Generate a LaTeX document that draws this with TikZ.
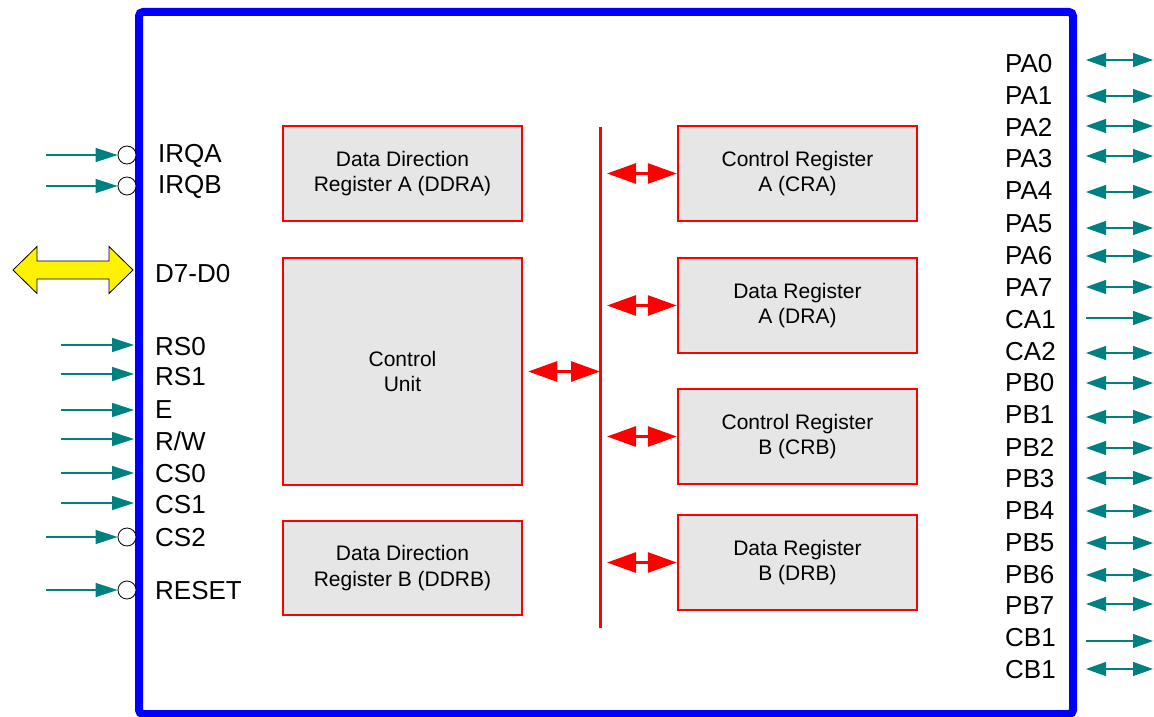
\documentclass[tikz,border=0pt]{standalone}
\usepackage{fontspec}
\setmainfont{Liberation Sans}
\usetikzlibrary{arrows.meta}
\definecolor{pinteal}{RGB}{0,128,128}
\definecolor{regfill}{RGB}{230,230,230}
\begin{document}
\begin{tikzpicture}[x=1pt,y=-1pt,
  reg/.style={draw=red, line width=2.5pt, fill=regfill, minimum width=239pt,
    inner sep=0pt, align=center, font=\fontsize{21}{25.5}\selectfont},
  bubble/.style={circle, draw=black, fill=white, line width=0.8pt,
    minimum size=18pt, inner sep=0pt},
  pinlabel/.style={anchor=west, inner sep=0pt, font=\fontsize{26}{30}\selectfont},
  pinin/.style={color=pinteal, line width=1.2pt, arrows={-Triangle[length=22pt,width=14pt]}},
  pinout/.style={color=pinteal, line width=1.2pt, arrows={-Triangle[length=20pt,width=14pt]}},
  pinboth/.style={color=pinteal, line width=1.2pt,
    arrows={Triangle[length=20pt,width=14pt]-Triangle[length=20pt,width=14pt]}},
  busarrow/.style={color=red, line width=3pt,
    arrows={Triangle[length=29pt,width=20pt]-Triangle[length=29pt,width=20pt]}},
]
\useasboundingbox (0,0) rectangle (1154,717);

% chip outline
\draw[blue, line width=8pt, rounded corners=4pt] (139,12) rectangle (1073,714);

% internal registers
\node[reg, minimum height=95pt]  (ddra) at (402.5,173.5) {Data Direction\\Register A (DDRA)};
\node[reg, minimum height=227pt] (cu)   at (402.5,371.5) {Control\\Unit};
\node[reg, minimum height=94pt]  (ddrb) at (402.5,568)   {Data Direction\\Register B (DDRB)};
\node[reg, minimum height=95pt]  (cra)  at (797.5,173.5) {Control Register\\A (CRA)};
\node[reg, minimum height=95pt]  (dra)  at (797.5,305.5) {Data Register\\A (DRA)};
\node[reg, minimum height=95pt]  (crb)  at (797.5,436.5) {Control Register\\B (CRB)};
\node[reg, minimum height=95pt]  (drb)  at (797.5,562.5) {Data Register\\B (DRB)};

% internal bus
\coordinate (busT) at (600,127);
\coordinate (busB) at (600,628);
\draw[red, line width=3pt] (busT) -- (busB);
\draw[busarrow] ([xshift=7pt]cra.west -| busT) -- (cra.west);
\draw[busarrow] ([xshift=7pt]dra.west -| busT) -- (dra.west);
\draw[busarrow] ([xshift=7pt]crb.west -| busT) -- (crb.west);
\draw[busarrow] ([xshift=7pt]drb.west -| busT) -- (drb.west);
\draw[busarrow] ([xshift=5pt]cu.east) -- (cu.east -| busB);

% data bus D7-D0
\draw[fill=yellow, line width=0.8pt] (13,270) -- (37,246.5) -- (37,261) -- (109,261)
  -- (109,246.5) -- (133,270) -- (109,293.5) -- (109,279) -- (37,279) -- (37,293.5) -- cycle;
\node[pinlabel] (d70) at (155,274) {D7-D0};

% active-low inputs
\foreach \n/\t/\y/\ly/\lx in {irqa/IRQA/155/156/158, irqb/IRQB/186/187/158,
    cstwo/CS2/537/538/155, reset/RESET/590/591/155}{
  \node[bubble] (\n b) at (127,\y) {};
  \coordinate (\n in) at (46,\y);
  \draw[pinin] (\n in) -- (\n b);
  \node[pinlabel] (\n l) at (\lx,\ly) {\t};
}

% plain inputs
\foreach \n/\t/\y/\ly in {rszero/RS0/345/347, rsone/RS1/374/377, en/E/410/410,
    rw/{R/W}/439/441, cszero/CS0/473/474, csone/CS1/503/505}{
  \coordinate (\n in) at (61,\y);
  \coordinate (\n p) at (134,\y);
  \draw[pinin] (\n in) -- (\n p);
  \node[pinlabel] (\n l) at (155,\ly) {\t};
}

% port pins
\foreach \t/\y/\ly/\s [count=\i] in {
    PA0/60/64/pinboth, PA1/96/96/pinboth, PA2/126/127/pinboth, PA3/156/159/pinboth,
    PA4/192/191/pinboth, PA5/228/224/pinboth, PA6/256/256/pinboth, PA7/287/288/pinboth,
    CA1/318/320/pinout, CA2/353/352/pinboth, PB0/383/383/pinboth, PB1/417/415/pinboth,
    PB2/448/447/pinboth, PB3/478/479/pinboth, PB4/511/511/pinboth, PB5/543/543/pinboth,
    PB6/575/575/pinboth, PB7/604/606/pinboth, CB1/641/638/pinout, CB1/669/670/pinboth}{
  \node[pinlabel] (port\i) at (1005,\ly) {\t};
  \coordinate (porta\i) at (1086,\y);
  \coordinate (portb\i) at (1153,\y);
  \draw[\s] (porta\i) -- (portb\i);
}
\end{tikzpicture}
\end{document}
